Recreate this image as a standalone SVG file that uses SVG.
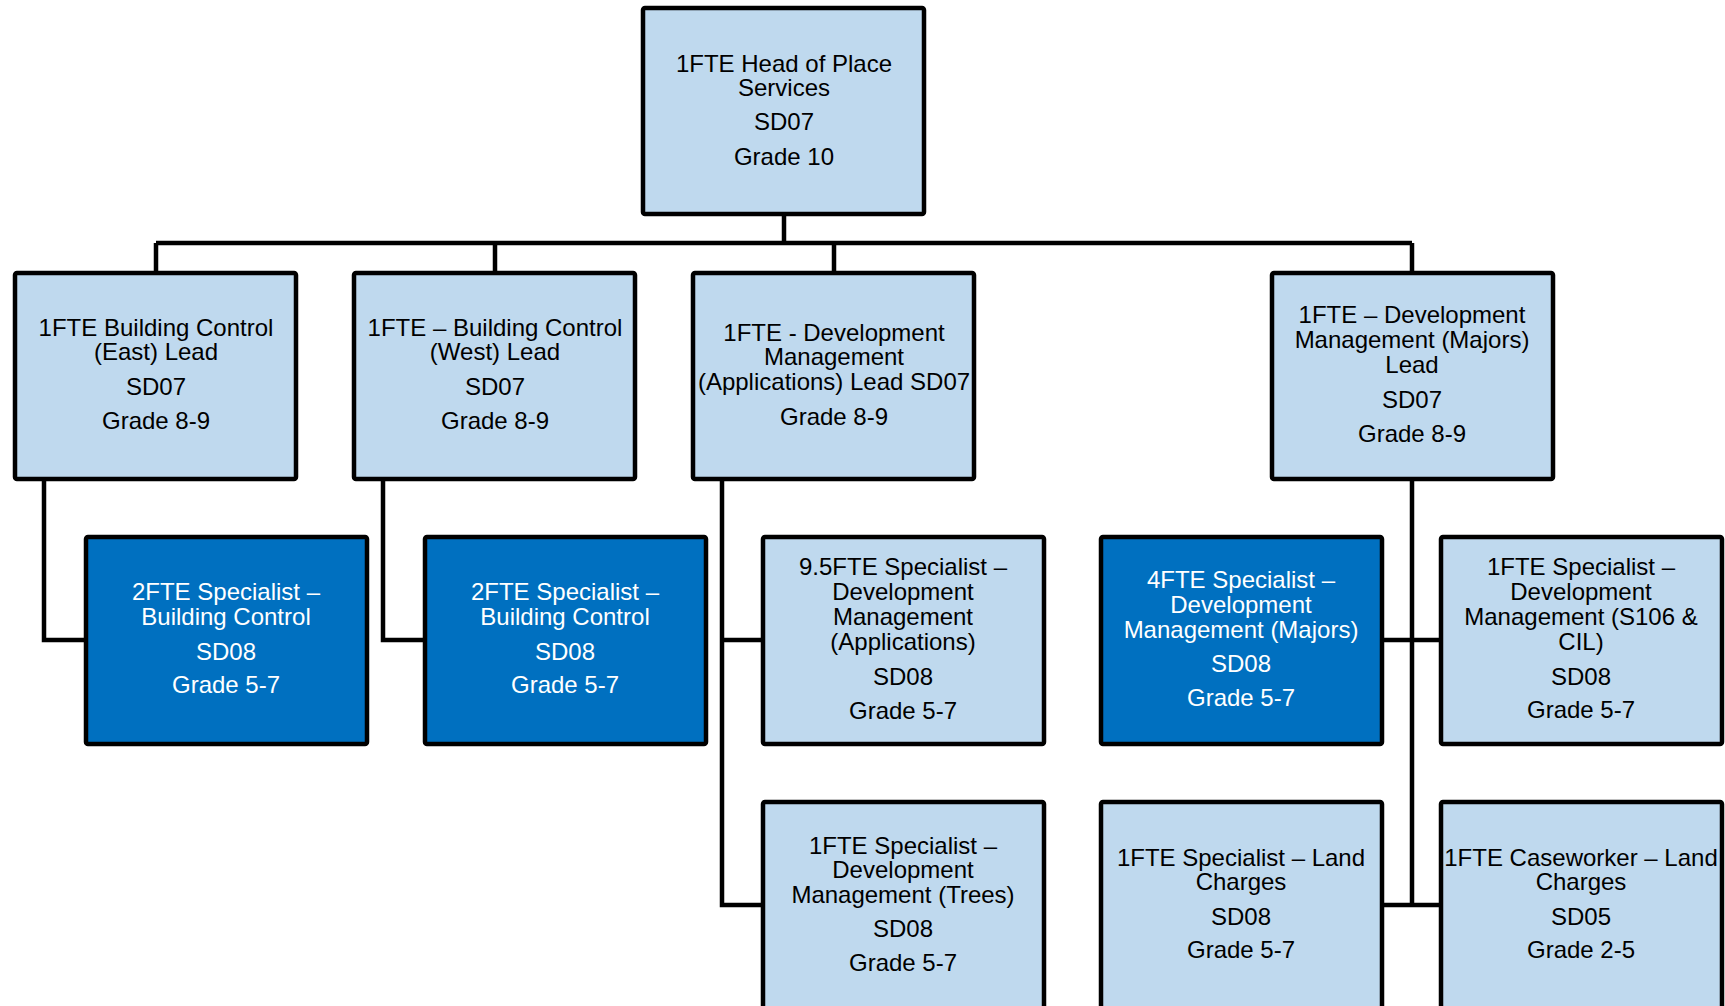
<svg xmlns="http://www.w3.org/2000/svg" width="1725" height="1006" viewBox="0 0 1725 1006">
<style>
.box{stroke:#000;stroke-width:4.5;stroke-linejoin:round}
.light{fill:#BFD9EE}
.dark{fill:#0070C0}
text{font-family:"Liberation Sans",Arial,sans-serif;font-size:24px;text-anchor:middle}
.tl{fill:#000}
.tw{fill:#fff}
.conn{fill:none;stroke:#000;stroke-width:4.5;stroke-linejoin:miter}
</style>
<rect width="1725" height="1006" fill="#fff"/>
<g id="connectors" class="conn">
<path d="M784 214V243"/>
<path d="M156 243H1412"/>
<path d="M156 243V273M495 243V273M834 243V273M1412 243V273"/>
<path d="M44 479V640H86"/>
<path d="M383 479V640H425"/>
<path d="M722 479V905H763M722 640H763"/>
<path d="M1412 479V905M1382 640H1441M1382 905H1441"/>
</g>
<g id="head">
<rect class="box light" x="643" y="8" width="281" height="206" rx="2"/>
<text class="tl" x="784" y="72">1FTE Head of Place</text>
<text class="tl" x="784" y="96">Services</text>
<text class="tl" x="784" y="130">SD07</text>
<text class="tl" x="784" y="165">Grade 10</text>
</g>
<g id="bc-east-lead">
<rect class="box light" x="15" y="273" width="281" height="206" rx="2"/>
<text class="tl" x="156" y="336">1FTE Building Control</text>
<text class="tl" x="156" y="360">(East) Lead</text>
<text class="tl" x="156" y="395">SD07</text>
<text class="tl" x="156" y="429">Grade 8-9</text>
</g>
<g id="bc-west-lead">
<rect class="box light" x="354" y="273" width="281" height="206" rx="2"/>
<text class="tl" x="495" y="336">1FTE – Building Control</text>
<text class="tl" x="495" y="360">(West) Lead</text>
<text class="tl" x="495" y="395">SD07</text>
<text class="tl" x="495" y="429">Grade 8-9</text>
</g>
<g id="dm-app-lead">
<rect class="box light" x="693" y="273" width="281" height="206" rx="2"/>
<text class="tl" x="834" y="341">1FTE - Development</text>
<text class="tl" x="834" y="365">Management</text>
<text class="tl" x="834" y="390">(Applications) Lead SD07</text>
<text class="tl" x="834" y="425">Grade 8-9</text>
</g>
<g id="dm-majors-lead">
<rect class="box light" x="1272" y="273" width="281" height="206" rx="2"/>
<text class="tl" x="1412" y="323">1FTE – Development</text>
<text class="tl" x="1412" y="348">Management (Majors)</text>
<text class="tl" x="1412" y="373">Lead</text>
<text class="tl" x="1412" y="408">SD07</text>
<text class="tl" x="1412" y="442">Grade 8-9</text>
</g>
<g id="bc-east-spec">
<rect class="box dark" x="86" y="537" width="281" height="207" rx="2"/>
<text class="tw" x="226" y="600">2FTE Specialist –</text>
<text class="tw" x="226" y="625">Building Control</text>
<text class="tw" x="226" y="660">SD08</text>
<text class="tw" x="226" y="693">Grade 5-7</text>
</g>
<g id="bc-west-spec">
<rect class="box dark" x="425" y="537" width="281" height="207" rx="2"/>
<text class="tw" x="565" y="600">2FTE Specialist –</text>
<text class="tw" x="565" y="625">Building Control</text>
<text class="tw" x="565" y="660">SD08</text>
<text class="tw" x="565" y="693">Grade 5-7</text>
</g>
<g id="dm-app-spec">
<rect class="box light" x="763" y="537" width="281" height="207" rx="2"/>
<text class="tl" x="903" y="575">9.5FTE Specialist –</text>
<text class="tl" x="903" y="600">Development</text>
<text class="tl" x="903" y="625">Management</text>
<text class="tl" x="903" y="650">(Applications)</text>
<text class="tl" x="903" y="685">SD08</text>
<text class="tl" x="903" y="719">Grade 5-7</text>
</g>
<g id="dm-majors-spec">
<rect class="box dark" x="1101" y="537" width="281" height="207" rx="2"/>
<text class="tw" x="1241" y="588">4FTE Specialist –</text>
<text class="tw" x="1241" y="613">Development</text>
<text class="tw" x="1241" y="638">Management (Majors)</text>
<text class="tw" x="1241" y="672">SD08</text>
<text class="tw" x="1241" y="706">Grade 5-7</text>
</g>
<g id="dm-s106-spec">
<rect class="box light" x="1441" y="537" width="281" height="207" rx="2"/>
<text class="tl" x="1581" y="575">1FTE Specialist –</text>
<text class="tl" x="1581" y="600">Development</text>
<text class="tl" x="1581" y="625">Management (S106 &amp;</text>
<text class="tl" x="1581" y="650">CIL)</text>
<text class="tl" x="1581" y="685">SD08</text>
<text class="tl" x="1581" y="718">Grade 5-7</text>
</g>
<g id="dm-trees-spec">
<rect class="box light" x="763" y="802" width="281" height="208" rx="2"/>
<text class="tl" x="903" y="854">1FTE Specialist –</text>
<text class="tl" x="903" y="878">Development</text>
<text class="tl" x="903" y="903">Management (Trees)</text>
<text class="tl" x="903" y="937">SD08</text>
<text class="tl" x="903" y="971">Grade 5-7</text>
</g>
<g id="land-spec">
<rect class="box light" x="1101" y="802" width="281" height="208" rx="2"/>
<text class="tl" x="1241" y="866">1FTE Specialist – Land</text>
<text class="tl" x="1241" y="890">Charges</text>
<text class="tl" x="1241" y="925">SD08</text>
<text class="tl" x="1241" y="958">Grade 5-7</text>
</g>
<g id="land-case">
<rect class="box light" x="1441" y="802" width="281" height="208" rx="2"/>
<text class="tl" x="1581" y="866">1FTE Caseworker – Land</text>
<text class="tl" x="1581" y="890">Charges</text>
<text class="tl" x="1581" y="925">SD05</text>
<text class="tl" x="1581" y="958">Grade 2-5</text>
</g>
</svg>
